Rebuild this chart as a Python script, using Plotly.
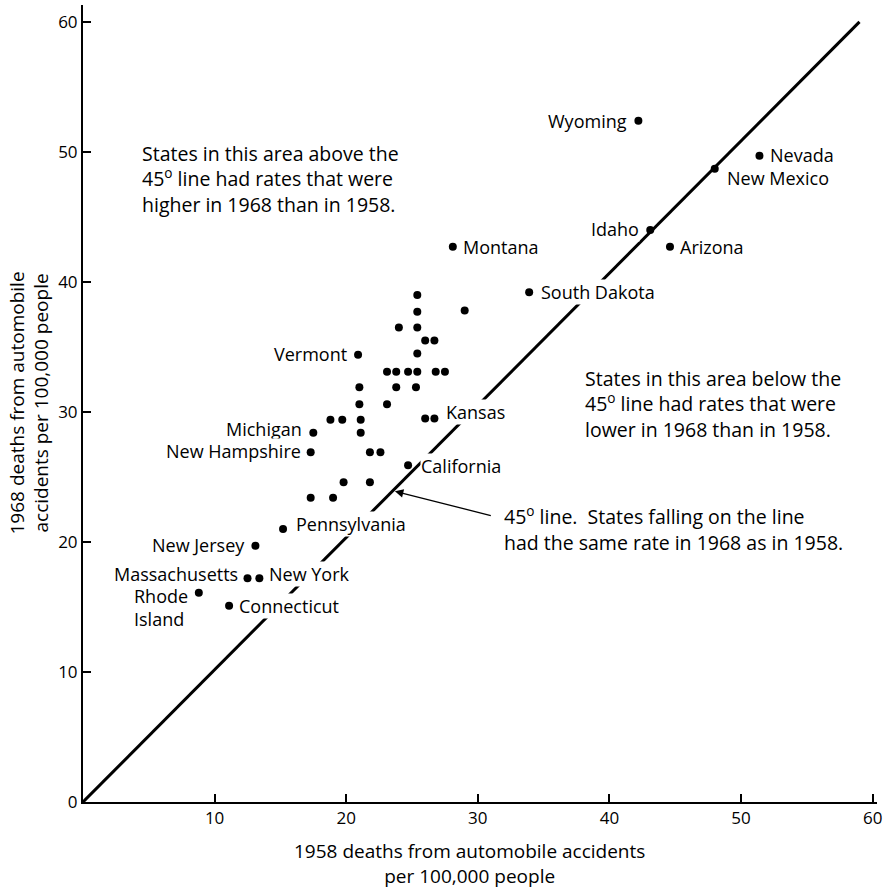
import plotly.graph_objects as go

# ---- data ----
labeled_states = ["Wyoming", "Nevada", "New Mexico", "Idaho", "Arizona", "Montana",
                  "South Dakota", "Vermont", "Kansas", "Michigan", "New Hampshire",
                  "California", "Pennsylvania", "New Jersey", "Massachusetts",
                  "New York", "Rhode<br>Island", "Connecticut"]
labeled_1958 = [42.2, 51.4, 48.0, 43.1, 44.6, 28.1, 33.9, 20.9, 26.7, 17.5, 17.3,
                24.7, 15.2, 13.1, 12.5, 13.4, 8.8, 11.1]
labeled_1968 = [52.4, 49.7, 48.7, 44.0, 42.7, 42.7, 39.2, 34.4, 29.5, 28.4, 26.9,
                25.9, 21.0, 19.7, 17.2, 17.2, 16.1, 15.1]

other_1958 = [25.4, 25.4, 29.0, 24.0, 25.4, 26.0, 26.7, 25.4,
              23.1, 23.8, 24.7, 25.4, 26.8, 27.5,
              21.0, 23.8, 25.3, 21.0, 23.1,
              18.8, 19.7, 21.1, 26.0, 21.1, 21.8, 22.6,
              19.8, 21.8, 17.3, 19.0]
other_1968 = [39.0, 37.7, 37.8, 36.5, 36.5, 35.5, 35.5, 34.5,
              33.1, 33.1, 33.1, 33.1, 33.1, 33.1,
              31.9, 31.9, 31.9, 30.6, 30.6,
              29.4, 29.4, 29.4, 29.5, 28.4, 26.9, 26.9,
              24.6, 24.6, 23.4, 23.4]

line45_x = [0, 59]
line45_y = [0, 60]

x_ticks = [10, 20, 30, 40, 50, 60]
y_ticks = [0, 10, 20, 30, 40, 50, 60]

# ---- label placement (styling) ----
# name: (xanchor, xshift px, yshift px)
label_style = {
    "Wyoming": ("right", -10, 0),
    "Nevada": ("left", 10, 1),
    "New Mexico": ("left", 11, -9),
    "Idaho": ("right", -10, 1),
    "Arizona": ("left", 9, 0),
    "Montana": ("left", 9, 0),
    "South Dakota": ("left", 11, 0),
    "Vermont": ("right", -10, 1),
    "Kansas": ("left", 11, 6),
    "Michigan": ("right", -10, 4),
    "New Hampshire": ("right", -9, 1),
    "California": ("left", 12, -1),
    "Pennsylvania": ("left", 12, 5),
    "New Jersey": ("right", -9, 1),
    "Massachusetts": ("right", -9, 4),
    "New York": ("left", 9, 4),
    "Rhode<br>Island": ("right", -10, -15),
    "Connecticut": ("left", 9, 0),
}

FONT = "Open Sans"
TXT = dict(family=FONT, size=18, color="black")
BIG = dict(family=FONT, size=19.5, color="black")
NB = "\u00a0"
fig = go.Figure()

fig.add_trace(go.Scatter(x=line45_x, y=line45_y, mode="lines",
                         line=dict(color="black", width=3), hoverinfo="skip"))
fig.add_trace(go.Scatter(x=other_1958, y=other_1968, mode="markers",
                         marker=dict(color="black", size=8)))
fig.add_trace(go.Scatter(x=labeled_1958, y=labeled_1968, mode="markers",
                         marker=dict(color="black", size=8),
                         text=labeled_states))

for name, xv, yv in zip(labeled_states, labeled_1958, labeled_1968):
    xa, xs, ys = label_style[name]
    fig.add_annotation(x=xv, y=yv, text=name, showarrow=False, xanchor=xa,
                       yanchor="middle", xshift=xs, yshift=ys, align="left",
                       bgcolor="white", borderpad=0, font=TXT)

def block(x, y, lines):
    fig.add_annotation(x=x, y=y, text="<br>".join(lines), showarrow=False,
                       xanchor="left", yanchor="middle", align="left", font=BIG)

block(4.3, 47.9, ["States in this area above the",
                  "45<sup>o</sup> line had rates that were",
                  "higher in 1968 than in 1958."])
block(38.0, 30.6, ["States in this area below the",
                   "45<sup>o</sup> line had rates that were",
                   "lower in 1968 than in 1958."])
block(31.8, 21.0, ["45<sup>o</sup>" + NB + "line." + NB + " States falling on the line",
                   "had the same rate in 1968 as in 1958."])

# arrow pointing to the 45 degree line
fig.add_annotation(x=23.7, y=23.9, ax=31.1, ay=22.0, axref="x", ayref="y",
                   xref="x", yref="y", text="", showarrow=True,
                   arrowhead=2, arrowsize=1.3, arrowwidth=1.3, arrowcolor="black")

# axis titles
fig.add_annotation(xref="paper", yref="paper", x=0, y=0.5, xshift=-54,
                   textangle=-90, showarrow=False, xanchor="center", yanchor="middle",
                   text="1968 deaths from automobile<br>accidents per 100,000 people",
                   font=dict(family=FONT, size=19, color="black"))
fig.add_annotation(xref="paper", yref="paper", x=0.5, y=0, xshift=-11, yshift=-61,
                   showarrow=False, xanchor="center", yanchor="middle",
                   text="1958 deaths from automobile accidents<br>per 100,000 people",
                   font=dict(family=FONT, size=19, color="black"))

axis_common = dict(showgrid=False, zeroline=False, showline=True, linecolor="black",
                   linewidth=2, ticks="inside", ticklen=8, tickwidth=1.5,
                   tickcolor="black", tickfont=dict(family=FONT, size=17, color="black"))
fig.update_xaxes(range=[0, 60.33], tickvals=x_ticks, ticktext=[str(v) for v in x_ticks],
                 **axis_common)
fig.update_yaxes(range=[0, 61.3], tickvals=y_ticks, ticktext=[str(v) for v in y_ticks],
                 **axis_common)

fig.update_layout(width=893, height=891, showlegend=False,
                  plot_bgcolor="white", paper_bgcolor="white",
                  margin=dict(l=83, r=16, t=5, b=89),
                  font=dict(family=FONT, color="black"))

fig.write_html("out.html")
